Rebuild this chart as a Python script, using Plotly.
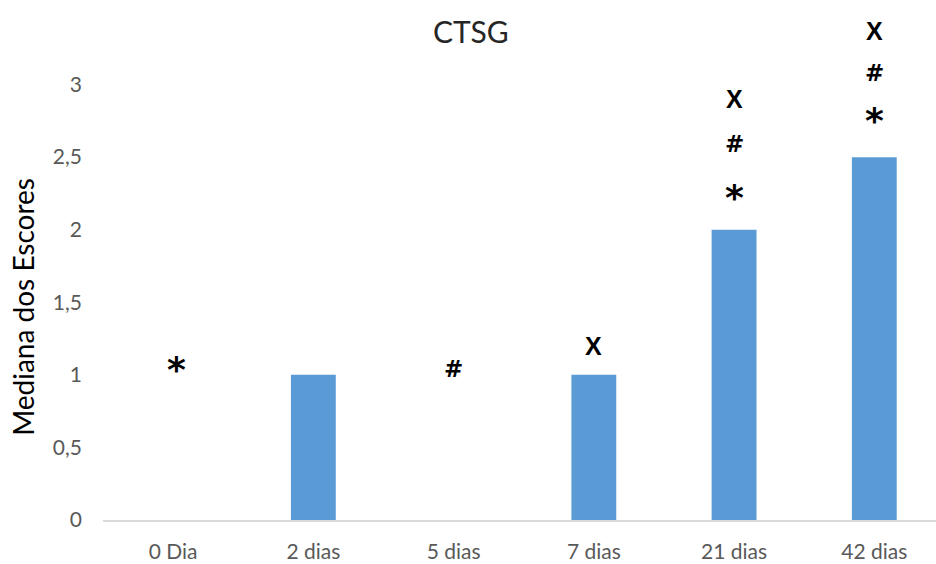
import plotly.graph_objects as go

# Median scores by time point
categories = ["0 Dia", "2 dias", "5 dias", "7 dias", "21 dias", "42 dias"]
medians = [0, 1, 0, 1, 2, 2.5]

y_tick_values = [0, 0.5, 1, 1.5, 2, 2.5, 3]
y_tick_labels = ["0", "0,5", "1", "1,5", "2", "2,5", "3"]

# Significance markers: (category, symbol, height in score units)
markers = [
    ("0 Dia", "*", 1.06),
    ("5 dias", "#", 1.04),
    ("7 dias", "X", 1.20),
    ("21 dias", "*", 2.24),
    ("21 dias", "#", 2.59),
    ("21 dias", "X", 2.90),
    ("42 dias", "*", 2.77),
    ("42 dias", "#", 3.08),
    ("42 dias", "X", 3.37),
]

TEXT_GRAY = "#595959"
FONT = "Lato, Carlito, Calibri, sans-serif"

fig = go.Figure(
    go.Bar(
        x=categories,
        y=medians,
        width=0.32,
        marker=dict(color="#5b9bd5", line=dict(width=0)),
        hoverinfo="x+y",
    )
)

for cat, sym, yv in markers:
    if sym == "*":
        # the asterisk glyph sits high in its line box, so push the box down
        font = dict(family="DejaVu Sans, sans-serif", size=36, color="black")
        shift = -3
    elif sym == "#":
        font = dict(family="DejaVu Sans, sans-serif", size=23, color="black")
        shift = 0
    else:
        font = dict(family="Liberation Sans, Arial, sans-serif", size=25, color="black")
        shift = 0
    fig.add_annotation(
        x=cat, y=yv, xref="x", yref="y",
        text=f"<b>{sym}</b>",
        showarrow=False,
        font=font,
        xanchor="center", yanchor="middle",
        yshift=shift,
        xshift=3 if cat == "0 Dia" else 0,
    )

# Vertical axis title
fig.add_annotation(
    x=-0.097, y=0.42, xref="paper", yref="paper",
    text="Mediana dos Escores",
    textangle=-90,
    showarrow=False,
    font=dict(family=FONT, size=28, color="black"),
    xanchor="center", yanchor="middle",
)

fig.update_layout(
    width=936, height=564,
    margin=dict(l=103, r=0, t=12, b=44),
    paper_bgcolor="white",
    plot_bgcolor="white",
    showlegend=False,
    title=dict(
        text="CTSG",
        x=0.503, xanchor="center",
        y=1 - 32 / 564, yanchor="middle",
        font=dict(family=FONT, size=30, color="#262626"),
    ),
    font=dict(family=FONT, color=TEXT_GRAY),
)

fig.update_xaxes(
    type="category",
    range=[-0.5, 5.44],
    showgrid=False,
    showline=True,
    linecolor="#d9d9d9",
    linewidth=1.5,
    ticks="",
    tickfont=dict(family=FONT, size=21, color=TEXT_GRAY),
    ticklabelstandoff=12,
    zeroline=False,
)

fig.update_yaxes(
    range=[0, 3.5],
    tickvals=y_tick_values,
    ticktext=y_tick_labels,
    showgrid=False,
    showline=False,
    zeroline=False,
    ticks="",
    tickfont=dict(family=FONT, size=21, color=TEXT_GRAY),
    ticklabelstandoff=20,
)

fig.write_html("out.html")
